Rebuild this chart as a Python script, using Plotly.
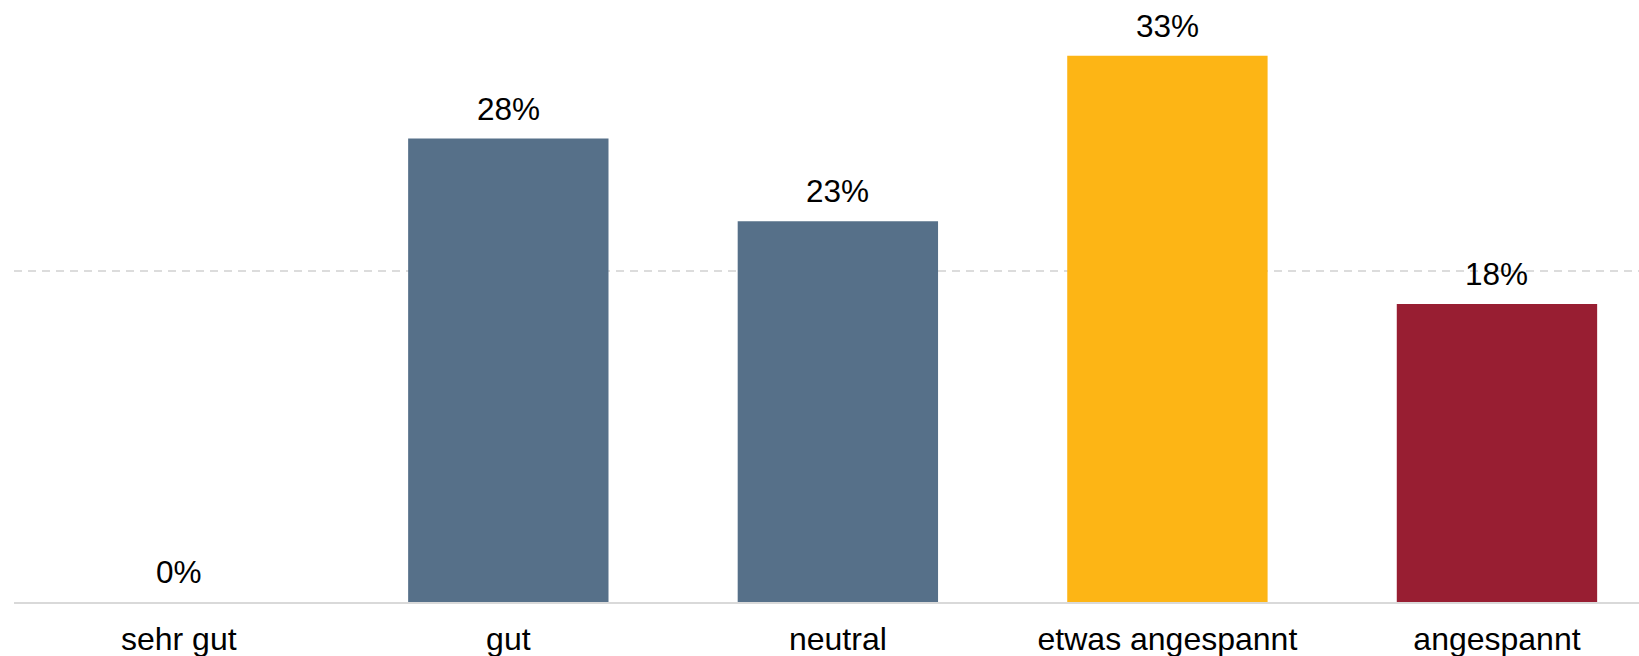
import plotly.graph_objects as go

# Survey answers and their shares (percent)
categories = ["sehr gut", "gut", "neutral", "etwas angespannt", "angespannt"]
shares = [0, 28, 23, 33, 18]
bar_colors = ["#567089", "#567089", "#567089", "#FDB515", "#981E32"]
grid_values = [20]

FONT = "Liberation Sans, Arial, sans-serif"

fig = go.Figure(
    go.Bar(
        x=categories,
        y=shares,
        marker=dict(color=bar_colors, line=dict(width=0)),
        width=0.608,
        hoverinfo="skip",
    )
)

# Value labels above each bar
for cat, val in zip(categories, shares):
    fig.add_annotation(
        x=cat,
        y=val,
        text=f"{val}%",
        showarrow=False,
        yanchor="bottom",
        yshift=10,
        font=dict(family=FONT, size=31.5, color="#000000"),
    )

fig.update_layout(
    width=1639,
    height=656,
    margin=dict(l=14, r=0, t=0, b=54, autoexpand=False),
    paper_bgcolor="white",
    plot_bgcolor="white",
    showlegend=False,
    xaxis=dict(
        type="category",
        range=[-0.5, 4.431],
        automargin=False,
        showgrid=False,
        showline=True,
        linecolor="#d9d9d9",
        linewidth=1.5,
        ticks="",
        ticklabelstandoff=8,
        tickfont=dict(family=FONT, size=32, color="#000000"),
        zeroline=False,
    ),
    yaxis=dict(
        range=[0, 36.37],
        automargin=False,
        tickvals=grid_values,
        showticklabels=False,
        showgrid=True,
        gridcolor="#dcdcdc",
        gridwidth=1.5,
        griddash="8px,6px",
        zeroline=False,
        showline=False,
    ),
)

fig.write_html("out.html")
